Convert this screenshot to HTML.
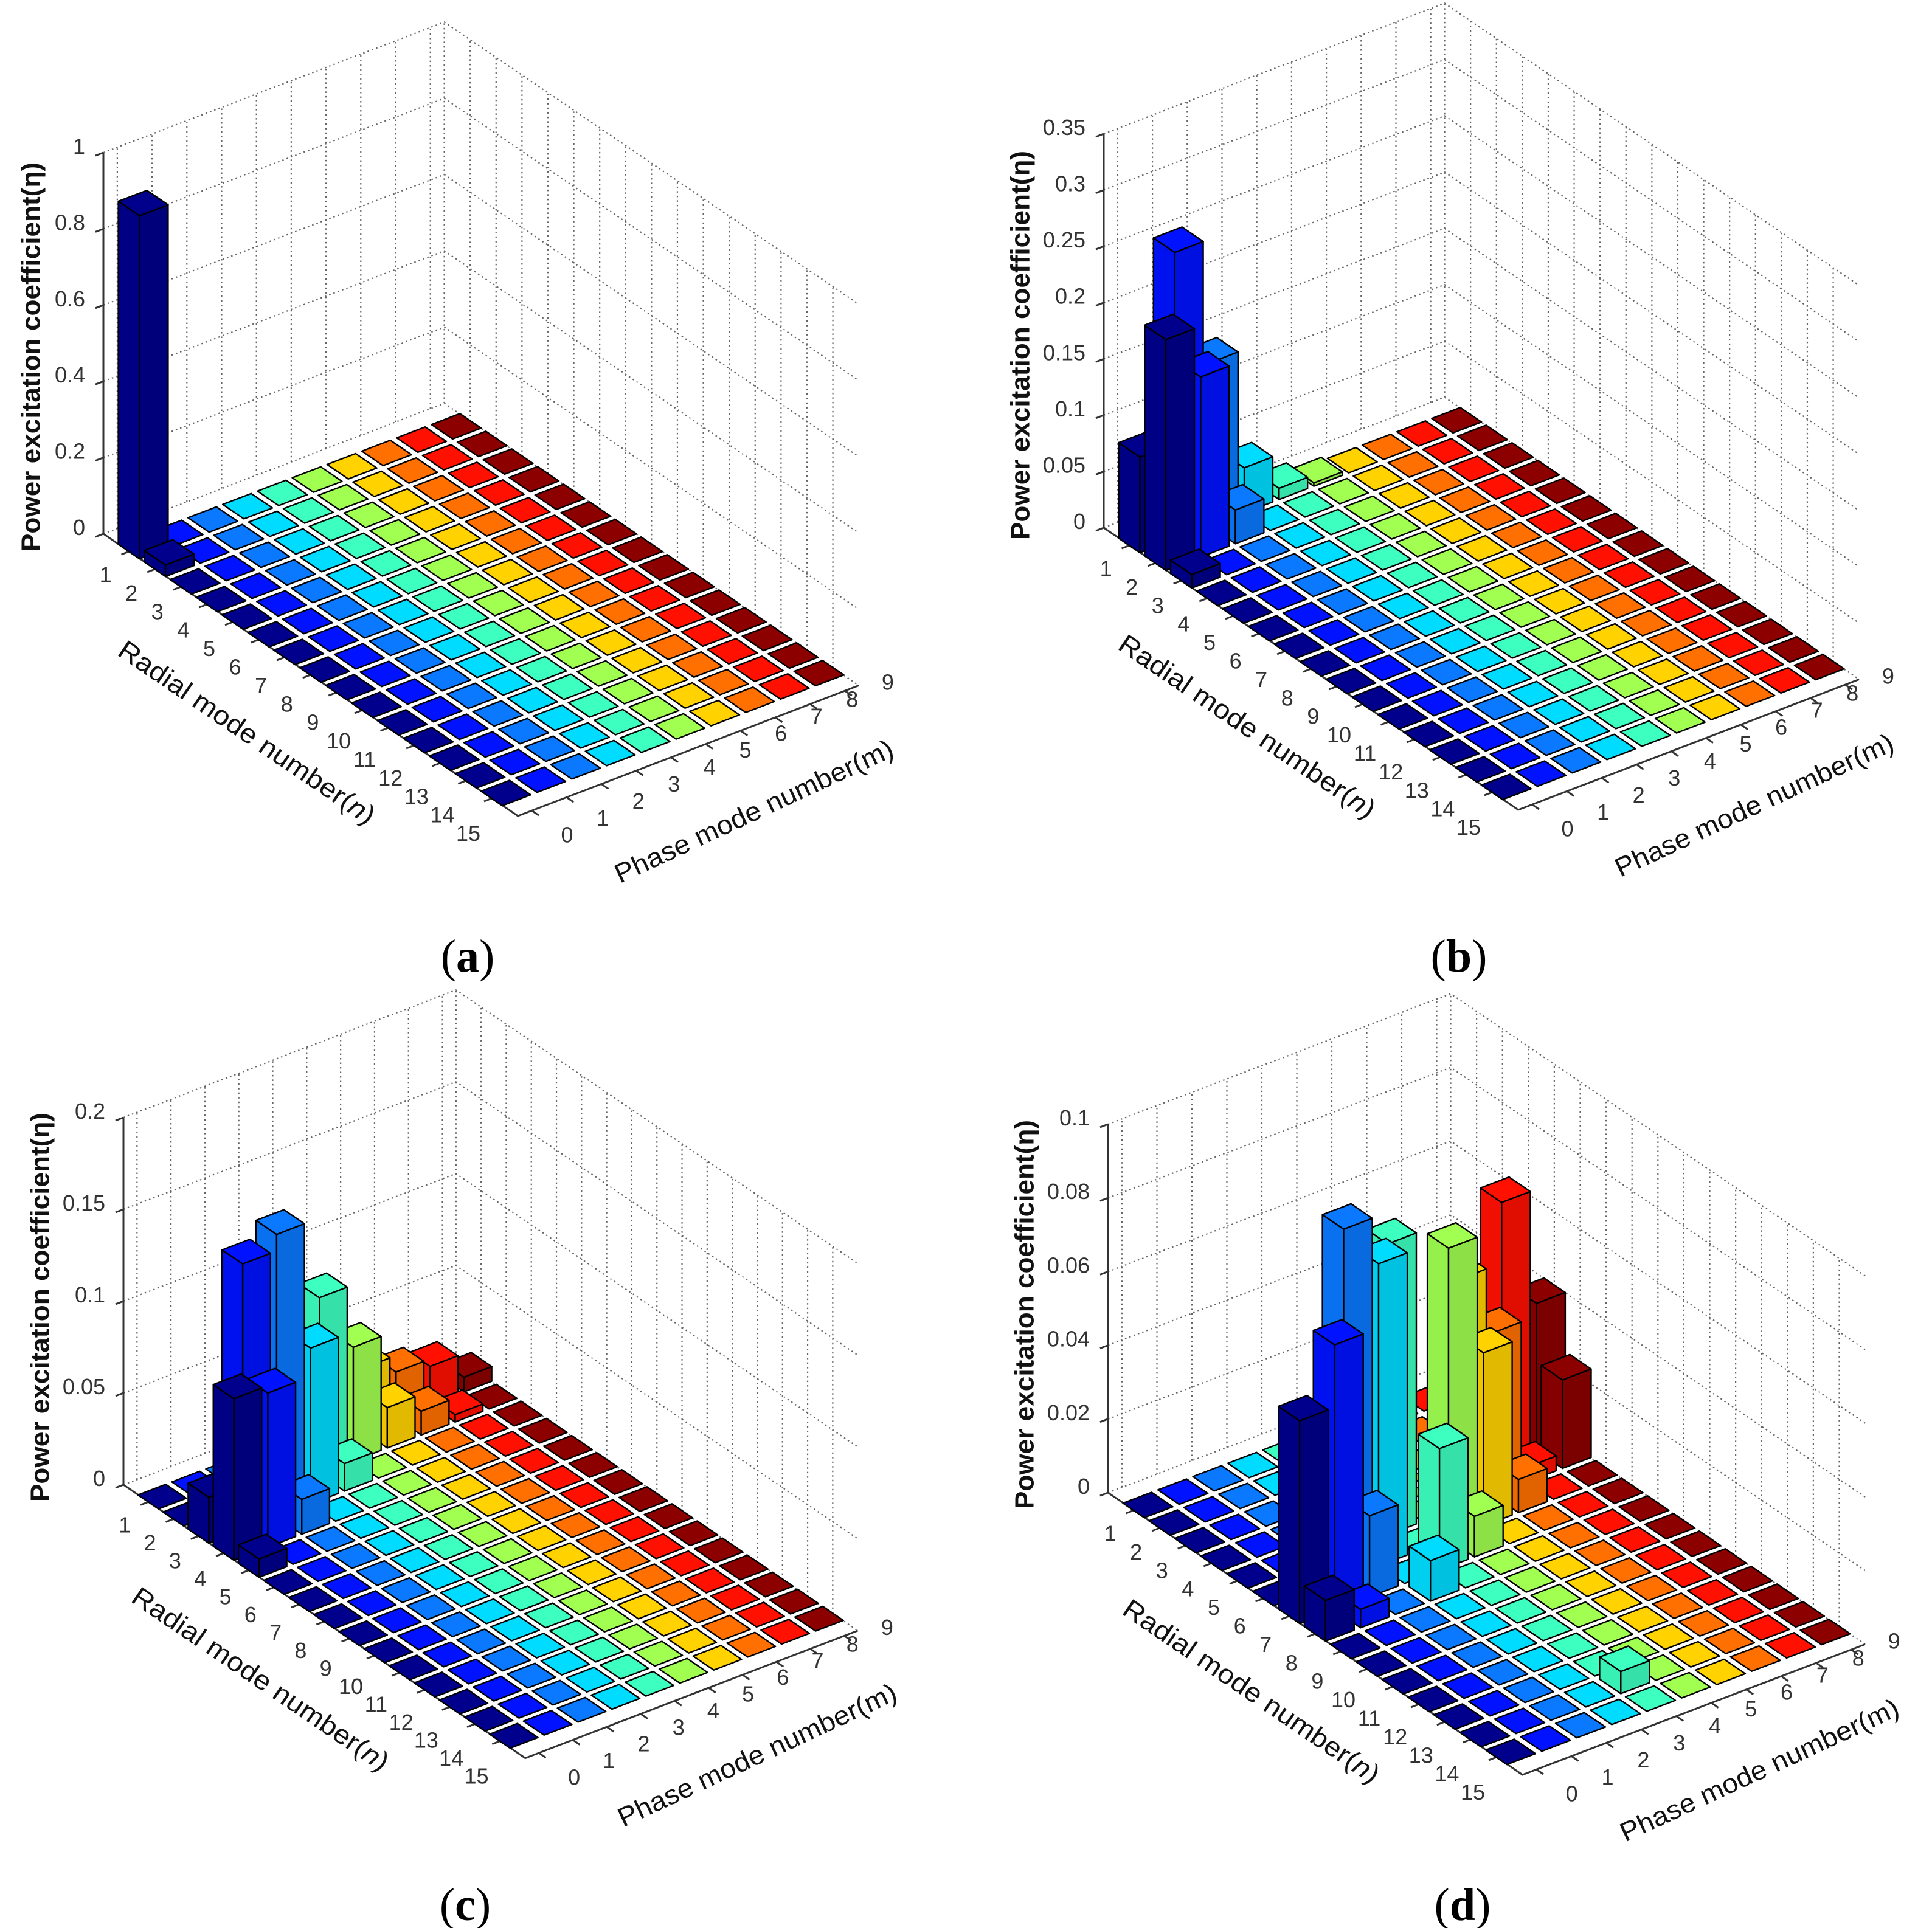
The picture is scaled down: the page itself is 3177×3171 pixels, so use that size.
<!DOCTYPE html>
<html><head><meta charset="utf-8"><title>Power excitation coefficient bar charts</title>
<style>
html,body{margin:0;padding:0;background:#fff;}
svg{display:block;}
text{font-family:"Liberation Sans",Arial,sans-serif;}
.cap{font-family:"Liberation Serif","Times New Roman",serif;}
</style></head>
<body>
<svg id="fig" xmlns="http://www.w3.org/2000/svg" width="3177" height="3171" viewBox="0 0 3177 3171">
<rect x="0" y="0" width="3177" height="3171" fill="#fff"/>
<text class="cap" x="769" y="1598" font-size="76" text-anchor="middle">(<tspan font-weight="bold">a</tspan>)</text>
<text class="cap" x="2399" y="1598" font-size="76" text-anchor="middle">(<tspan font-weight="bold">b</tspan>)</text>
<text class="cap" x="765" y="3158" font-size="76" text-anchor="middle">(<tspan font-weight="bold">c</tspan>)</text>
<text class="cap" x="2405" y="3158" font-size="76" text-anchor="middle">(<tspan font-weight="bold">d</tspan>)</text>
</svg>
<script>
// ---- data ----
const radialModes = [1,2,3,4,5,6,7,8,9,10,11,12,13,14,15];
const phaseModes = [0,1,2,3,4,5,6,7,8,9];
const phaseColors = ['#00008c','#0012ff','#0a78ff','#00dcff','#3cffc0','#a0ff50','#ffd200','#ff7000','#ff1000','#8c0000'];

// panel (a) nonzero bars
const aN = [1, 2];
const aM = [0, 0];
const aV = [0.9, 0.03];
const aTicks = [0, 0.2, 0.4, 0.6, 0.8, 1];
const aTickLabels = ['0','0.2','0.4','0.6','0.8','1'];

// panel (b)
const bN = [1, 2, 3, 1, 2, 1, 2, 1, 1, 1];
const bM = [0, 0, 0, 1, 1, 2, 2, 3, 4, 5];
const bV = [0.085, 0.205, 0.012, 0.255, 0.16, 0.145, 0.03, 0.04, 0.01, 0.003];
const bTicks = [0, 0.05, 0.1, 0.15, 0.2, 0.25, 0.3, 0.35];
const bTickLabels = ['0','0.05','0.1','0.15','0.2','0.25','0.3','0.35'];

// panel (c)
const cN = [3, 4, 5, 3, 4, 3, 4, 2, 3, 2, 3, 2, 1, 2, 1, 2, 1, 2, 1];
const cM = [0, 0, 0, 1, 1, 2, 2, 3, 3, 4, 4, 5, 6, 6, 7, 7, 8, 8, 9];
const cV = [0.025, 0.088, 0.01, 0.145, 0.084, 0.154, 0.019, 0.06, 0.085, 0.096, 0.015, 0.062, 0.034, 0.022, 0.025, 0.013, 0.021, 0.004, 0.008];
const cTicks = [0, 0.05, 0.1, 0.15, 0.2];
const cTickLabels = ['0','0.05','0.1','0.15','0.2'];

// panel (d)
const dN = [7, 8, 7, 8, 6, 7, 6, 8, 5, 7, 6, 7, 5, 6, 5, 6, 4, 5, 4, 5, 14];
const dM = [0, 0, 1, 1, 2, 2, 3, 3, 4, 4, 5, 5, 6, 6, 7, 7, 8, 8, 9, 9, 4];
const dV = [0.055, 0.011, 0.072, 0.005, 0.095, 0.022, 0.082, 0.011, 0.079, 0.033, 0.079, 0.011, 0.062, 0.047, 0.044, 0.009, 0.071, 0.004, 0.04, 0.024, 0.006];
const dTicks = [0, 0.02, 0.04, 0.06, 0.08, 0.1];
const dTickLabels = ['0','0.02','0.04','0.06','0.08','0.1'];

// ---- layout (geometry only) ----
const panels = [
  {id:'a', L:[170,878], dn:[42.6,29], dm:[57.2,-21.9], zH:627, zMax:1, N:aN, M:aM, V:aV, ticks:aTicks, labels:aTickLabels, ty:[-119,-291]},
  {id:'b', L:[1815,868], dn:[42.6,29], dm:[57.2,-21.9], zH:648, zMax:0.35, N:bN, M:bM, V:bV, ticks:bTicks, labels:bTickLabels, ty:[-137,-300]},
  {id:'c', L:[203,2442], dn:[41.3,28.1], dm:[55.8,-21.4], zH:604, zMax:0.2, N:cN, M:cM, V:cV, ticks:cTicks, labels:cTickLabels, ty:[-137,-292]},
  {id:'d', L:[1822,2455], dn:[42.6,29], dm:[57.5,-21.9], zH:606, zMax:0.1, N:dN, M:dM, V:dV, ticks:dTicks, labels:dTickLabels, ty:[-137,-293]}
];
const NS = 'http://www.w3.org/2000/svg';
const svg = document.getElementById('fig');
const nLo = 0, nHi = 16, mLo = -0.4, mHi = 9.4, half = 0.41;

function mk(tag, attrs, parent){
  const e = document.createElementNS(NS, tag);
  for (const k in attrs) e.setAttribute(k, attrs[k]);
  parent.appendChild(e);
  return e;
}
function shade(hex, f){
  const r = parseInt(hex.substr(1,2),16), g = parseInt(hex.substr(3,2),16), b = parseInt(hex.substr(5,2),16);
  return 'rgb(' + Math.round(r*f) + ',' + Math.round(g*f) + ',' + Math.round(b*f) + ')';
}

panels.forEach(function(p){
  const g = mk('g', {}, svg);
  
  
  function P(n, m, z){
    return [p.L[0] + (n - nLo)*p.dn[0] + (m - mLo)*p.dm[0],
            p.L[1] + (n - nLo)*p.dn[1] + (m - mLo)*p.dm[1] - z/p.zMax*p.zH];
  }
  function pts(arr){ return arr.map(function(q){ return q[0].toFixed(1)+','+q[1].toFixed(1); }).join(' '); }
  const zTop = p.zMax;
  // grid
  const grid = mk('g', {stroke:'#666', 'stroke-width':2.2, 'stroke-dasharray':'2.5 5', fill:'none'}, g);
  
  
  phaseModes.concat([mHi]).forEach(function(m){
    const a = P(nLo, m, 0), b = P(nLo, m, zTop);
    mk('line', {x1:a[0], y1:a[1], x2:b[0], y2:b[1]}, grid);
  });
  radialModes.forEach(function(n){
    const a = P(n, mHi, 0), b = P(n, mHi, zTop);
    mk('line', {x1:a[0], y1:a[1], x2:b[0], y2:b[1]}, grid);
  });
  p.ticks.forEach(function(z){
    const a = P(nLo, mLo, z), b = P(nLo, mHi, z), c = P(nHi, mHi, z);
    mk('polyline', {points: pts([a,b,c])}, grid);
  });
  // axes
  const ax = mk('g', {stroke:'#333', 'stroke-width':3, fill:'none'}, g);
  
  
  const L0 = P(nLo, mLo, 0), F0 = P(nHi, mLo, 0), R0 = P(nHi, mHi, 0), Lt = P(nLo, mLo, zTop);
  mk('polyline', {points: pts([Lt, L0, F0, R0])}, ax);
  const dmLen = Math.hypot(p.dm[0], p.dm[1]), dnLen = Math.hypot(p.dn[0], p.dn[1]);
  const tm = [-p.dm[0]/dmLen*14, -p.dm[1]/dmLen*14], tn = [p.dn[0]/dnLen*14, p.dn[1]/dnLen*14];
  p.ticks.forEach(function(z, i){
    const a = P(nLo, mLo, z);
    mk('line', {x1:a[0], y1:a[1], x2:a[0]+tm[0], y2:a[1]+tm[1]}, ax);
    const t = mk('text', {x:a[0]-30, y:a[1]+2, 'font-size':36, 'text-anchor':'end', fill:'#333', stroke:'none'}, g);
    
    
    t.textContent = p.labels[i];
  });
  radialModes.forEach(function(n){
    const a = P(n, mLo, 0);
    mk('line', {x1:a[0], y1:a[1], x2:a[0]+tm[0], y2:a[1]+tm[1]}, ax);
    const t = mk('text', {x:a[0]-39, y:a[1]+38+(n-1)*1.4, 'font-size':36, 'text-anchor':'middle', 'dominant-baseline':'central', fill:'#333', stroke:'none'}, g);
    
    
    t.textContent = String(n);
  });
  phaseModes.forEach(function(m){
    const a = P(nHi, m, 0);
    mk('line', {x1:a[0], y1:a[1], x2:a[0]+tn[0], y2:a[1]+tn[1]}, ax);
    const t = mk('text', {x:a[0]+58+m*1.4, y:a[1]+40-m*6, 'font-size':36, 'text-anchor':'middle', 'dominant-baseline':'central', fill:'#333', stroke:'none'}, g);
    
    
    t.textContent = String(m);
  });
  // axis titles
  const zt = mk('text', {x:0, y:0, 'font-size':44, 'font-weight':'bold', 'text-anchor':'middle', 'dominant-baseline':'central', fill:'#111', textLength:640, lengthAdjust:'spacingAndGlyphs',
    transform:'translate(' + (p.L[0]+p.ty[0]) + ',' + (p.L[1]+p.ty[1]) + ') rotate(-90)'}, g);
  
  
  zt.textContent = 'Power excitation coefficient(\u03b7)';
  const ang1 = Math.atan2(p.dn[1], p.dn[0])*180/Math.PI;
  const rc = P(8, mLo, 0);
  const rt = mk('text', {x:0, y:0, 'font-size':44, 'text-anchor':'middle', 'dominant-baseline':'central', fill:'#111', textLength:500, lengthAdjust:'spacingAndGlyphs',
    transform:'translate(' + (rc[0]-105) + ',' + (rc[1]+95) + ') rotate(' + ang1.toFixed(2) + ')'}, g);
  
  
  rt.innerHTML = 'Radial mode number(<tspan font-style="italic">n</tspan>)';
  const ang2 = Math.atan2(p.dm[1], p.dm[0])*180/Math.PI - 4;
  const pc = P(nHi, 4.5, 0);
  const pt = mk('text', {x:0, y:0, 'font-size':44, 'text-anchor':'middle', 'dominant-baseline':'central', fill:'#111', textLength:500, lengthAdjust:'spacingAndGlyphs',
    transform:'translate(' + (pc[0]+108) + ',' + (pc[1]+100) + ') rotate(' + ang2.toFixed(2) + ')'}, g);
  
  
  pt.textContent = 'Phase mode number(m)';
  // bars
  const vals = {};
  p.N.forEach(function(n, i){ vals[n + '_' + p.M[i]] = p.V[i]; });
  const cells = [];
  radialModes.forEach(function(n){ phaseModes.forEach(function(m){
    cells.push({n:n, m:m, v: vals[n + '_' + m] || 0, k: n*p.dn[1] + m*p.dm[1]});
  }); });
  cells.sort(function(a, b){ return a.k - b.k; });
  const bars = mk('g', {stroke:'#000', 'stroke-width':2.4, 'stroke-linejoin':'round'}, g);
  
  
  cells.forEach(function(c){
    const col = phaseColors[c.m];
    const n0 = c.n - half, n1 = c.n + half, m0 = c.m - half, m1 = c.m + half, v = c.v;
    const bg = mk('g', {}, bars);
    
    
    if (v > 0) {
      mk('polygon', {points: pts([P(n0,m0,0), P(n1,m0,0), P(n1,m0,v), P(n0,m0,v)]), fill: shade(col, 0.94)}, bg);
      mk('polygon', {points: pts([P(n1,m0,0), P(n1,m1,0), P(n1,m1,v), P(n1,m0,v)]), fill: shade(col, 0.88)}, bg);
    }
    mk('polygon', {points: pts([P(n0,m0,v), P(n0,m1,v), P(n1,m1,v), P(n1,m0,v)]), fill: col}, bg);
  });
});
</script>
</body></html>
